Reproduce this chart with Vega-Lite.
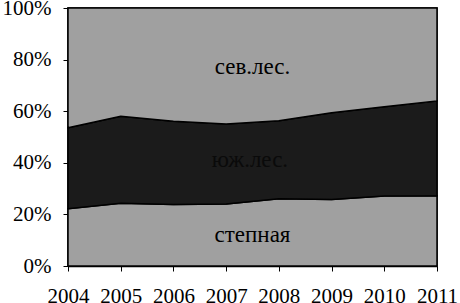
{
  "$schema": "https://vega.github.io/schema/vega-lite/v6.json",
  "width": 369,
  "height": 258,
  "autosize": "none",
  "padding": {"left": 68, "top": 8, "right": 23, "bottom": 37},
  "background": "white",
  "config": {
    "font": "Liberation Serif",
    "view": {"stroke": "black", "strokeWidth": 1.5},
    "axis": {"grid": false, "domain": true, "domainColor": "black", "domainWidth": 1.5, "tickColor": "black", "tickWidth": 1, "tickSize": 5, "labelFont": "Liberation Serif", "labelFontSize": 21, "labelColor": "black", "title": null}
  },
  "layer": [
    {
      "data": {"values": [
        {"year": 2004, "zone": "степная", "k": 1, "v": 0.222},
        {"year": 2005, "zone": "степная", "k": 1, "v": 0.243},
        {"year": 2006, "zone": "степная", "k": 1, "v": 0.238},
        {"year": 2007, "zone": "степная", "k": 1, "v": 0.240},
        {"year": 2008, "zone": "степная", "k": 1, "v": 0.261},
        {"year": 2009, "zone": "степная", "k": 1, "v": 0.258},
        {"year": 2010, "zone": "степная", "k": 1, "v": 0.271},
        {"year": 2011, "zone": "степная", "k": 1, "v": 0.272},
        {"year": 2004, "zone": "юж.лес.", "k": 2, "v": 0.314},
        {"year": 2005, "zone": "юж.лес.", "k": 2, "v": 0.337},
        {"year": 2006, "zone": "юж.лес.", "k": 2, "v": 0.323},
        {"year": 2007, "zone": "юж.лес.", "k": 2, "v": 0.310},
        {"year": 2008, "zone": "юж.лес.", "k": 2, "v": 0.302},
        {"year": 2009, "zone": "юж.лес.", "k": 2, "v": 0.336},
        {"year": 2010, "zone": "юж.лес.", "k": 2, "v": 0.346},
        {"year": 2011, "zone": "юж.лес.", "k": 2, "v": 0.368},
        {"year": 2004, "zone": "сев.лес.", "k": 3, "v": 0.464},
        {"year": 2005, "zone": "сев.лес.", "k": 3, "v": 0.420},
        {"year": 2006, "zone": "сев.лес.", "k": 3, "v": 0.439},
        {"year": 2007, "zone": "сев.лес.", "k": 3, "v": 0.450},
        {"year": 2008, "zone": "сев.лес.", "k": 3, "v": 0.437},
        {"year": 2009, "zone": "сев.лес.", "k": 3, "v": 0.406},
        {"year": 2010, "zone": "сев.лес.", "k": 3, "v": 0.383},
        {"year": 2011, "zone": "сев.лес.", "k": 3, "v": 0.360}
      ]},
      "mark": {"type": "area", "stroke": "black", "strokeWidth": 1.5},
      "encoding": {
        "x": {"field": "year", "type": "quantitative", "scale": {"domain": [2004, 2011], "nice": false, "zero": false}, "axis": {"values": [2004, 2005, 2006, 2007, 2008, 2009, 2010, 2011], "format": "d", "labelPadding": 14, "labelFlush": false, "labelOverlap": false}},
        "y": {"field": "v", "type": "quantitative", "stack": "zero", "scale": {"domain": [0, 1], "nice": false}, "axis": {"values": [0, 0.2, 0.4, 0.6, 0.8, 1], "format": ".0%", "labelPadding": 12, "labelFlush": false}},
        "color": {"field": "zone", "type": "nominal", "scale": {"domain": ["степная", "юж.лес.", "сев.лес."], "range": ["#a0a0a0", "#1b1b1b", "#a0a0a0"]}, "legend": null},
        "order": {"field": "k", "type": "quantitative"}
      }
    },
    {
      "data": {"values": [{}]},
      "mark": {"type": "text", "text": "сев.лес.", "fontSize": 23, "fill": "black", "align": "center", "baseline": "middle"},
      "encoding": {"x": {"datum": 2007.5}, "y": {"datum": 0.771}}
    },
    {
      "data": {"values": [{}]},
      "mark": {"type": "text", "text": "юж.лес.", "fontSize": 23, "fill": "#0a0a0a", "align": "center", "baseline": "middle"},
      "encoding": {"x": {"datum": 2007.45}, "y": {"datum": 0.411}}
    },
    {
      "data": {"values": [{}]},
      "mark": {"type": "text", "text": "степная", "fontSize": 23, "fill": "black", "align": "center", "baseline": "middle"},
      "encoding": {"x": {"datum": 2007.5}, "y": {"datum": 0.12}}
    }
  ]
}
